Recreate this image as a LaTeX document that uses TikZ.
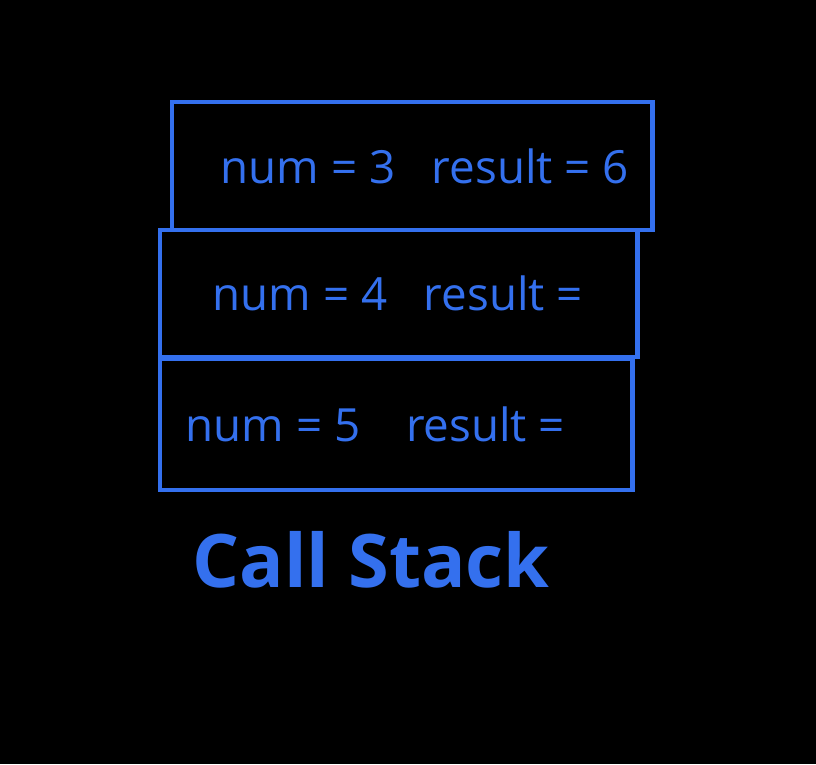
\documentclass[tikz,border=0pt]{standalone}
\usepackage{fontspec}
\setmainfont{Open Sans}
\usetikzlibrary{positioning}
\definecolor{inkblue}{RGB}{52,112,238}

\begin{document}
\begin{tikzpicture}[x=0.01cm, y=-0.01cm, node distance=0cm]
                \tikzset{frame/.style={draw=inkblue, line width=1.2pt, inner sep=0pt, anchor=north west},
                    entry/.style={text=inkblue, font=\fontsize{13}{15}\selectfont, inner sep=0pt, anchor=west}}

                % BACKGROUND
                \fill[black] (0,0) rectangle (816,764);
                \useasboundingbox (0,0) rectangle (816,764);

                % FRAMES
                \node[frame, minimum width=4.8cm, minimum height=1.28cm] (top) at (170,100) {};
                \node[frame, minimum width=4.77cm, minimum height=1.27cm] (mid) at (158,228) {};
                \node[frame, minimum width=4.72cm, minimum height=1.31cm] (bot) at (158,357) {};

                % VALUES
                \node[entry, right=0.5cm of top.west] (topval) {num = 3\hspace{0.8em}result = 6};
                \node[entry, right=0.54cm of mid.west] (midval) {num = 4\hspace{0.8em}result =};
                \node[entry, right=0.27cm of bot.west] (botval) {num = 5\hspace{1em}result =};

                % LABEL
                \node[text=inkblue, font=\bfseries\fontsize{21}{25}\selectfont, inner sep=0pt, anchor=west] (title) at (192,560) {Call Stack};

\end{tikzpicture}
\end{document}
